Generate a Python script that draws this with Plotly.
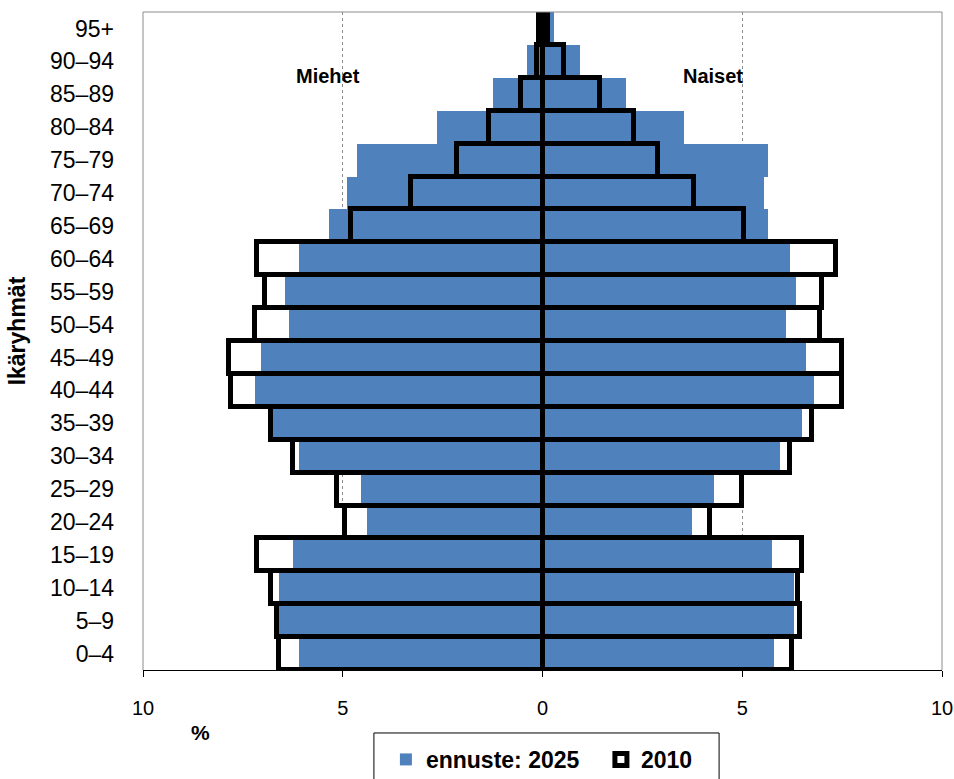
import plotly.graph_objects as go

# Age groups, youngest at the bottom
age_groups = ["0–4", "5–9", "10–14", "15–19", "20–24", "25–29", "30–34", "35–39",
              "40–44", "45–49", "50–54", "55–59", "60–64", "65–69", "70–74", "75–79",
              "80–84", "85–89", "90–94", "95+"]

# Share of population (%) by age group
men_2025 = [6.1, 6.6, 6.6, 6.25, 4.4, 4.55, 6.1, 6.75, 7.2, 7.05,
            6.35, 6.45, 6.1, 5.35, 4.9, 4.65, 2.65, 1.25, 0.4, 0.1]
men_2010 = [6.6, 6.65, 6.8, 7.15, 4.95, 5.15, 6.25, 6.8, 7.8, 7.85,
            7.2, 6.95, 7.15, 4.8, 3.3, 2.15, 1.35, 0.55, 0.15, 0.1]
women_2025 = [5.8, 6.3, 6.3, 5.75, 3.75, 4.3, 5.95, 6.5, 6.8, 6.6,
              6.1, 6.35, 6.2, 5.65, 5.55, 5.65, 3.55, 2.1, 0.95, 0.3]
women_2010 = [6.25, 6.45, 6.4, 6.5, 4.2, 5.0, 6.2, 6.75, 7.5, 7.5,
              6.95, 7.0, 7.35, 5.05, 3.8, 2.9, 2.3, 1.45, 0.55, 0.15]

x_ticks = [-10, -5, 0, 5, 10]
x_tick_text = ["10", "5", "0", "5", "10"]

FONT = "Arial, Liberation Sans, sans-serif"
BLUE = "#4F81BD"

fig = go.Figure()

# Forecast 2025: filled blue bars
fig.add_trace(go.Bar(
    y=age_groups, x=[-v for v in men_2025], orientation="h",
    name="ennuste: 2025", legendgroup="2025", showlegend=True,
    marker=dict(color=BLUE, line=dict(width=0)),
))
fig.add_trace(go.Bar(
    y=age_groups, x=women_2025, orientation="h",
    name="ennuste: 2025", legendgroup="2025", showlegend=False,
    marker=dict(color=BLUE, line=dict(width=0)),
))

# 2010: hollow bars with thick black outline
fig.add_trace(go.Bar(
    y=age_groups, x=[-v for v in men_2010], orientation="h",
    name="2010", legendgroup="2010", showlegend=True,
    marker=dict(color="rgba(255,255,255,0)", line=dict(color="black", width=5)),
))
fig.add_trace(go.Bar(
    y=age_groups, x=women_2010, orientation="h",
    name="2010", legendgroup="2010", showlegend=False,
    marker=dict(color="rgba(255,255,255,0)", line=dict(color="black", width=5)),
))

# Grey frame on top, left and right of the plot area
frame = dict(type="line", xref="paper", yref="paper",
             line=dict(color="#8c8c8c", width=1))
fig.add_shape(**frame, x0=0, x1=0, y0=0, y1=1)
fig.add_shape(**frame, x0=1, x1=1, y0=0, y1=1)
fig.add_shape(**frame, x0=0, x1=1, y0=1, y1=1)

# Box around the legend
fig.add_shape(type="rect", xref="paper", yref="paper",
              x0=0.289, x1=0.721, y0=-0.18, y1=-0.0957,
              line=dict(color="black", width=1), fillcolor="white", layer="below")

fig.update_layout(
    width=954, height=779,
    margin=dict(l=143, r=12, t=12, b=109, autoexpand=False),
    paper_bgcolor="white", plot_bgcolor="white",
    barmode="overlay", bargap=0,
    font=dict(family=FONT, color="black"),
    xaxis=dict(
        range=[-10, 10], tickvals=x_ticks, ticktext=x_tick_text,
        showgrid=True, gridcolor="#8c8c8c", gridwidth=1, griddash="dot",
        zeroline=False, showline=True, linecolor="black", linewidth=1,
        ticks="outside", ticklen=6, tickcolor="black",
        ticklabelstandoff=14, automargin=False,
        tickfont=dict(size=20, family=FONT, color="black"),
    ),
    yaxis=dict(
        categoryorder="array", categoryarray=age_groups,
        range=[-0.5, 19.5], showgrid=False, zeroline=False, showline=False,
        ticks="", ticklabelstandoff=28, automargin=False,
        tickfont=dict(size=23, family=FONT, color="black"),
    ),
    legend=dict(
        orientation="h", x=0.289, xanchor="left", y=-0.1033, yanchor="top",
        borderwidth=0, bgcolor="rgba(255,255,255,0)",
        indentation=12, entrywidth=158, entrywidthmode="pixels",
        font=dict(size=23, family=FONT, color="black", weight="bold"),
        traceorder="normal",
    ),
    annotations=[
        dict(text="<b>Miehet</b>", x=-5.38, y=0.903, xref="x", yref="paper",
             xanchor="center", yanchor="middle",
             showarrow=False, font=dict(size=20, family=FONT)),
        dict(text="<b>Naiset</b>", x=4.27, y=0.903, xref="x", yref="paper",
             xanchor="center", yanchor="middle",
             showarrow=False, font=dict(size=20, family=FONT)),
        dict(text="<b>Ikäryhmät</b>", x=-0.1566, y=0.516, xref="paper", yref="paper",
             xanchor="center", yanchor="middle",
             textangle=-90, showarrow=False, font=dict(size=23, family=FONT)),
        dict(text="<b>%</b>", x=0.0714, y=-0.0957, xref="paper", yref="paper",
             xanchor="center", yanchor="middle",
             showarrow=False, font=dict(size=21, family=FONT)),
    ],
)

fig.write_html("out.html")
